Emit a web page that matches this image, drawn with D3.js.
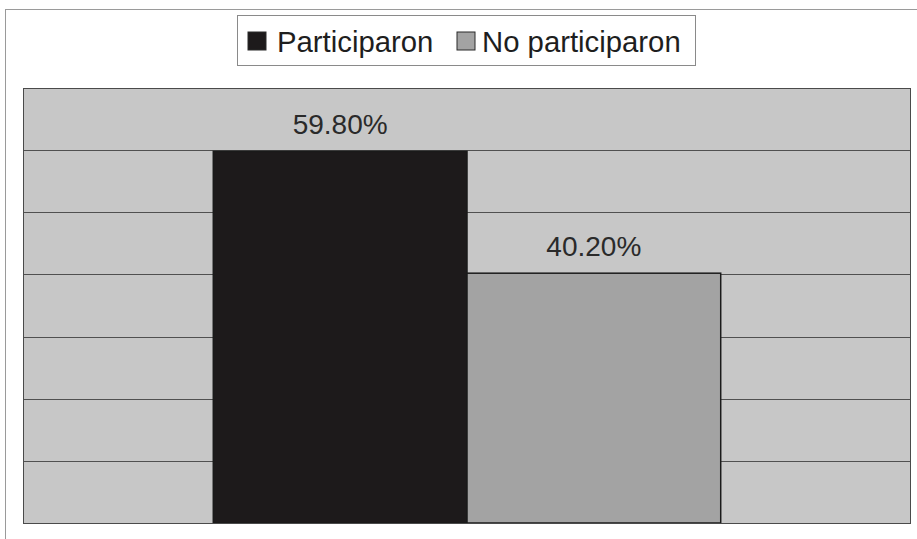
<!DOCTYPE html>
<html>
<head>
<meta charset="utf-8">
<script src="https://cdn.jsdelivr.net/npm/d3@7"></script>
<style>
  body { margin: 0; background: #fff; }
  svg text { font-family: "Liberation Sans", Arial, sans-serif; }
</style>
</head>
<body>
<div id="chart"></div>
<script>
// chart data
var categories = [""];
var seriesNames = ["Participaron", "No participaron"];
var seriesValues = [59.80, 40.20];
var valueLabels = ["59.80%", "40.20%"];
var gridTicks = [0, 10, 20, 30, 40, 50, 60, 70];

var colors = { "Participaron": "#1d1a1b", "No participaron": "#a3a3a3" };

var width = 917, height = 539;
var plot = { left: 23, right: 911, top: 88, bottom: 523 };

var svg = d3.select("#chart")
    .append("svg")
    .attr("width", width)
    .attr("height", height);

// outer chart frame (runs off the right and bottom of the picture)
svg.append("rect")
    .attr("x", 5.5).attr("y", 9.5)
    .attr("width", 940).attr("height", 560)
    .attr("fill", "#fff")
    .attr("stroke", "#9a9a9a")
    .attr("stroke-width", 1);

var y = d3.scaleLinear()
    .domain([0, 70])
    .range([plot.bottom, plot.top]);

var x0 = d3.scaleBand()
    .domain(categories)
    .range([plot.left, plot.right])
    .paddingInner(0)
    .paddingOuter(0.375);

var x1 = d3.scaleBand()
    .domain(seriesNames)
    .range([0, x0.bandwidth()]);

// plot area
svg.append("rect")
    .attr("x", plot.left).attr("y", plot.top)
    .attr("width", plot.right - plot.left)
    .attr("height", plot.bottom - plot.top)
    .attr("fill", "#c7c7c7");

// gridlines
svg.append("g")
    .selectAll("line")
    .data(gridTicks)
    .enter().append("line")
    .attr("x1", plot.left).attr("x2", plot.right)
    .attr("y1", function(d) { return Math.round(y(d)) + 0.5; })
    .attr("y2", function(d) { return Math.round(y(d)) + 0.5; })
    .attr("stroke", "#505050")
    .attr("stroke-width", 1);

// bars
var bars = seriesNames.map(function(s, i) {
    return { cat: categories[0], name: s, value: seriesValues[i], label: valueLabels[i] };
});

svg.append("g")
    .selectAll("rect")
    .data(bars)
    .enter().append("rect")
    .attr("x", function(d) { return x0(d.cat) + x1(d.name); })
    .attr("y", function(d) { return y(d.value); })
    .attr("width", x1.bandwidth())
    .attr("height", function(d) { return y(0) - y(d.value); })
    .attr("fill", function(d) { return colors[d.name]; })
    .attr("stroke", "#1a1a1a")
    .attr("stroke-width", 1.5);

// plot border
svg.append("rect")
    .attr("x", plot.left + 0.5).attr("y", plot.top + 0.5)
    .attr("width", plot.right - plot.left - 1)
    .attr("height", plot.bottom - plot.top)
    .attr("fill", "none")
    .attr("stroke", "#4a4a4a")
    .attr("stroke-width", 1);

// value labels
svg.append("g")
    .selectAll("text")
    .data(bars)
    .enter().append("text")
    .attr("x", function(d) { return x0(d.cat) + x1(d.name) + x1.bandwidth() / 2; })
    .attr("y", function(d) { return y(d.value) - 17; })
    .attr("text-anchor", "middle")
    .attr("font-size", "28px")
    .attr("fill", "#2a2a2a")
    .text(function(d) { return d.label; });

// legend
var legend = svg.append("g");
legend.append("rect")
    .attr("x", 237.5).attr("y", 15.5)
    .attr("width", 458).attr("height", 50)
    .attr("fill", "#fff")
    .attr("stroke", "#8a8a8a");

var legendX = [248, 457];
var legendTextX = [29, 25];
var item = legend.selectAll(".item")
    .data(seriesNames)
    .enter().append("g")
    .attr("class", "item")
    .attr("transform", function(d, i) { return "translate(" + legendX[i] + ",32)"; });

item.append("rect")
    .attr("width", 18).attr("height", 18)
    .attr("fill", function(d) { return colors[d]; })
    .attr("stroke", "#2a2a2a")
    .attr("stroke-width", 1);

item.append("text")
    .attr("x", function(d, i) { return legendTextX[i]; })
    .attr("y", 20)
    .attr("font-size", "29.3px")
    .attr("fill", "#1e1e1e")
    .text(function(d) { return d; });
</script>
</body>
</html>
